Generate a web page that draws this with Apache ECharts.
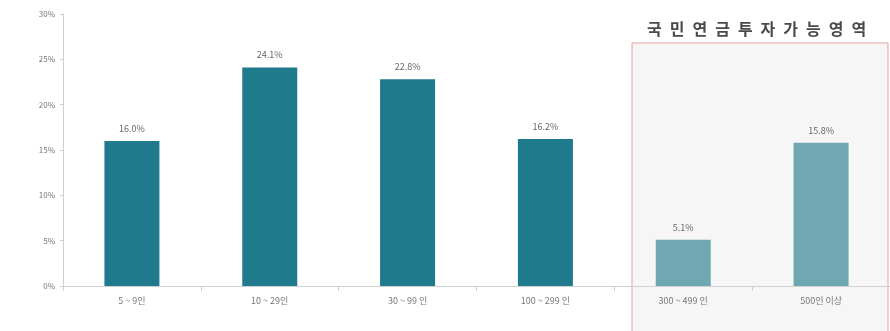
<!DOCTYPE html>
<html>
<head>
<meta charset="utf-8">
<script src="https://cdn.jsdelivr.net/npm/echarts@6/dist/echarts.min.js"></script>
<style>
  html, body { margin: 0; padding: 0; background: #fff; }
  #chart { width: 890px; height: 331px; }
</style>
</head>
<body>
<div id="chart"></div>
<script>
const categories = ['5 ~ 9인', '10 ~ 29인', '30 ~ 99 인', '100 ~ 299 인', '300 ~ 499 인', '500인 이상']
const shares = [16.0, 24.1, 22.8, 16.2, 5.1, 15.8]
// 뒤쪽 두 구간은 국민연금 투자가능 영역
const investable = [false, false, false, false, true, true]
const yTicks = [0, 5, 10, 15, 20, 25, 30]
const boxTitle = '국민연금 투자가능 영역'

const chart = echarts.init(document.getElementById('chart'))

const barData = shares.map((v, i) => ({
  value: v,
  itemStyle: { color: investable[i] ? '#6fa7b3' : '#1f7a8e' }
}))

// 원본처럼 글자 간격을 넓게
const spacedTitle = boxTitle.split('').filter(c => c !== ' ').join('\u2002')

chart.setOption({
  animation: false,
  textStyle: { fontFamily: 'Noto Sans CJK KR' },
  grid: { left: 63, right: -7, top: 14, bottom: 45 },
  graphic: [
    {
      type: 'rect',
      z: -1,
      shape: { x: 632, y: 43, width: 256, height: 300 },
      style: { fill: '#f6f6f6', stroke: '#e8a0a0', lineWidth: 1 }
    },
    {
      type: 'text',
      left: 647,
      top: 21,
      style: {
        text: spacedTitle,
        fill: '#4a4a4a',
        font: 'bold 16px "Noto Sans CJK KR"'
      }
    }
  ],
  xAxis: {
    type: 'category',
    data: categories,
    axisLine: { lineStyle: { color: '#d0d0d0' } },
    axisTick: { show: true, lineStyle: { color: '#d0d0d0' } },
    axisLabel: { color: '#777', fontSize: 9, margin: 10 }
  },
  yAxis: {
    type: 'value',
    min: yTicks[0],
    max: yTicks[yTicks.length - 1],
    interval: 5,
    axisLine: { show: true, lineStyle: { color: '#d0d0d0' } },
    axisTick: { show: true, length: 3, lineStyle: { color: '#d0d0d0' } },
    splitLine: { show: false },
    axisLabel: { color: '#777', fontSize: 8, formatter: '{value}%' }
  },
  series: [
    {
      type: 'bar',
      data: barData,
      barWidth: 55,
      label: {
        show: true,
        position: 'top',
        distance: 8,
        color: '#666',
        fontSize: 9,
        formatter: p => p.value.toFixed(1) + '%'
      }
    }
  ]
})
</script>
</body>
</html>
